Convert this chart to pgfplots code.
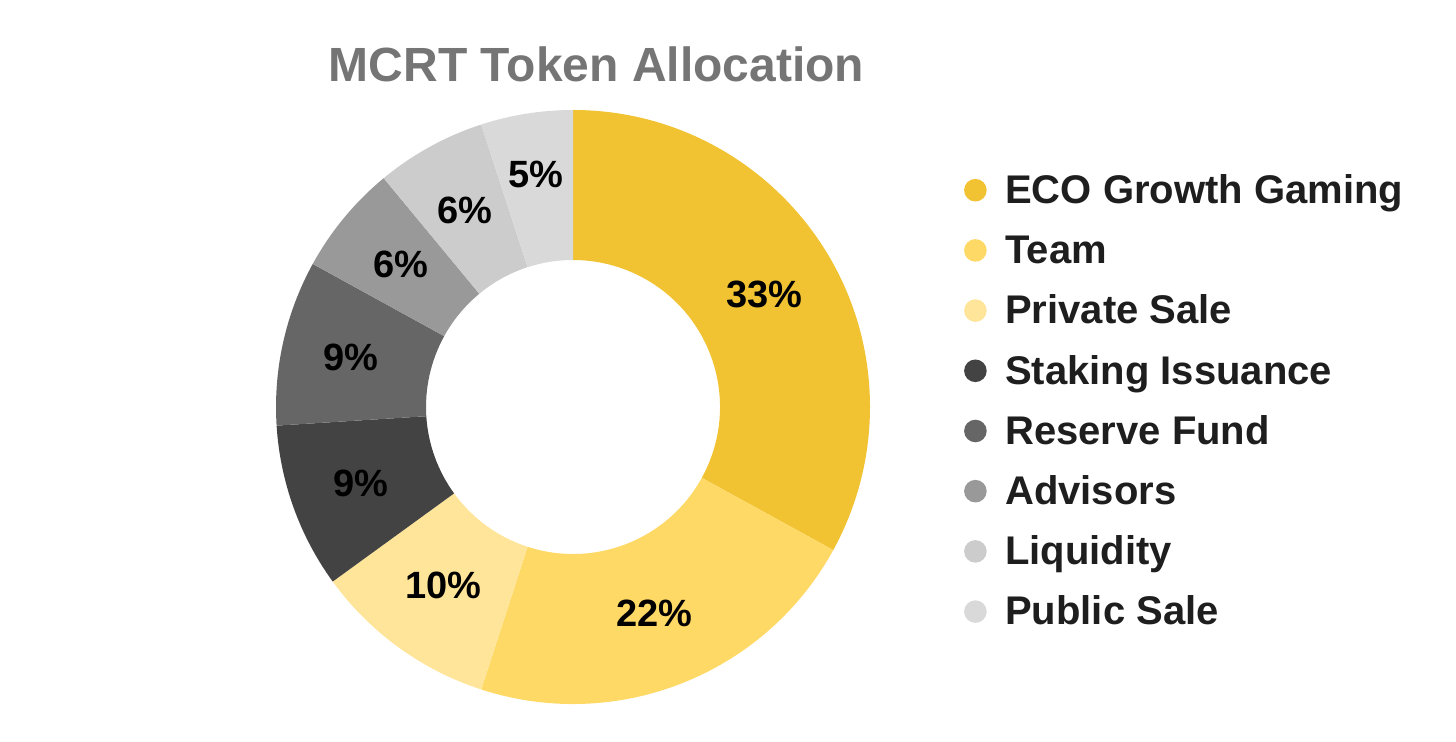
\documentclass[border=0pt]{standalone}
\usepackage{fontspec}
\setmainfont{Liberation Sans}
\usepackage{pgfplots}
\usepackage{pgfplotstable}
\pgfplotsset{compat=1.18}

\definecolor{ecoC}{HTML}{F1C232}
\definecolor{teamC}{HTML}{FFD966}
\definecolor{privC}{HTML}{FFE599}
\definecolor{stakC}{HTML}{434343}
\definecolor{resC}{HTML}{666666}
\definecolor{advC}{HTML}{999999}
\definecolor{liqC}{HTML}{CCCCCC}
\definecolor{pubC}{HTML}{D9D9D9}
\definecolor{titlegray}{HTML}{757575}
\definecolor{legtext}{HTML}{1E1E1E}

\newcommand\titlefont{\fontsize{48bp}{57bp}\selectfont\bfseries}
\newcommand\legfont{\fontsize{40bp}{48bp}\selectfont\bfseries}
\newcommand\pctfont{\fontsize{38bp}{45bp}\selectfont\bfseries}

% share of each group, in per cent; lr = radius of its label
\pgfplotstableread[col sep=comma]{
name,value,col,lr
ECO Growth Gaming,33,ecoC,222
Team,22,teamC,222
Private Sale,10,privC,220
Staking Issuance,9,stakC,225
Reserve Fund,9,resC,228
Advisors,6,advC,223
Liquidity,6,liqC,224
Public Sale,5,pubC,235
}\alloc

\begin{document}
\begin{tikzpicture}
\begin{axis}[
  width=1456bp, height=742bp, scale only axis,
  xmin=0, xmax=1456, ymin=0, ymax=742,
  hide axis, clip=false,
  legend style={at={(axis cs:963.7,571.5)}, anchor=north west,
    draw=none, fill=none, inner sep=0pt, row sep=17.4bp,
    font=\legfont, text=legtext,
    nodes={inner sep=0pt, text height=30bp, text depth=10bp}},
  legend cell align=left,
  legend image code/.code={%
    \path (0bp,0bp) (41bp,22.6bp);
    \fill[#1, draw=none, overlay] (11.3bp,3.3bp) circle[radius=11.3bp];},
]
  % keep the full canvas in the bounding box
  \pgfplotsextra{\path (axis cs:0,0) (axis cs:1456,742);}

  % donut wedges, clockwise from 12 o'clock
  \pgfplotsextra{
    \def\angA{90}
    \pgfplotsforeachungrouped \i in {0,...,7}{
      \pgfplotstablegetelem{\i}{value}\of\alloc \let\curval\pgfplotsretval
      \pgfplotstablegetelem{\i}{col}\of\alloc \let\curcol\pgfplotsretval
      \pgfplotstablegetelem{\i}{lr}\of\alloc \let\currad\pgfplotsretval
      \pgfmathsetmacro\angB{\angA-3.6*\curval}
      \pgfmathsetmacro\angM{(\angA+\angB)/2}
      \begin{scope}[shift={(axis cs:573,335)}]
        \fill[fill=\curcol] (\angA:297bp)
          arc[start angle=\angA, end angle=\angB, radius=297bp]
          -- (\angB:147bp)
          arc[start angle=\angB, end angle=\angA, radius=147bp] -- cycle;
        \node[font=\pctfont, text=black, inner sep=0pt] at (\angM:\currad bp) {\curval\%};
      \end{scope}
      \global\let\angA\angB
    }
  }

  \addlegendimage{fill=ecoC}
  \addlegendimage{fill=teamC}
  \addlegendimage{fill=privC}
  \addlegendimage{fill=stakC}
  \addlegendimage{fill=resC}
  \addlegendimage{fill=advC}
  \addlegendimage{fill=liqC}
  \addlegendimage{fill=pubC}
  \legend{ECO Growth Gaming, Team, Private Sale, Staking Issuance,
    Reserve Fund, Advisors, Liquidity, Public Sale}

  \node[font=\titlefont, text=titlegray, anchor=base]
    at (axis cs:596.5,660) {MCRT Token Allocation};
\end{axis}
\end{tikzpicture}
\end{document}
